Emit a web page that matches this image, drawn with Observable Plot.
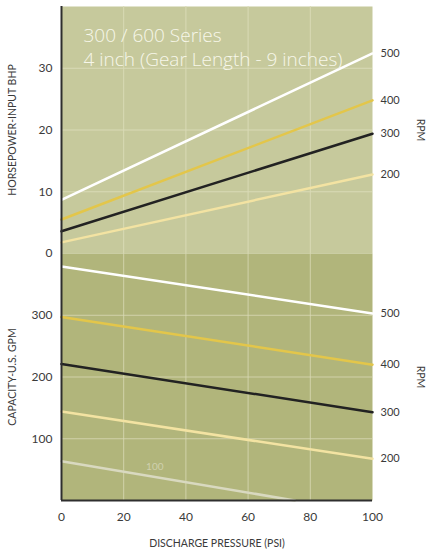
<!DOCTYPE html>
<html>
<head>
<meta charset="utf-8">
<script src="https://cdn.jsdelivr.net/npm/d3@7"></script>
<script src="https://cdn.jsdelivr.net/npm/@observablehq/plot@0.6"></script>
<style>
  html, body { margin: 0; padding: 0; background: #ffffff; }
  #chart { width: 429px; }
  #chart svg { display: block; overflow: visible; }
</style>
</head>
<body>
<div id="chart"></div>
<script>
// ---- data ----
const pressure = [0, 100];               // PSI at the ends of each curve
const rpmLabels = [500, 400, 300, 200];
const hp500 = [8.7, 32.4];
const hp400 = [5.5, 24.8];
const hp300 = [3.6, 19.4];
const hp200 = [1.8, 12.8];
const gpm500 = [379, 303];
const gpm400 = [297, 220];
const gpm300 = [221, 143];
const gpm200 = [144, 67.5];
const pressure100 = [0, 75];
const gpm100 = [63.7, 0];
const xTicks = [0, 20, 40, 60, 80, 100];
const hpTicks = [0, 10, 20, 30];
const gpmTicks = [100, 200, 300];
const titleLines = ["300 / 600 Series", "4 inch (Gear Length - 9 inches)"];
const hpLabel = "HORSEPOWER-INPUT BHP";
const gpmLabel = "CAPACITY-U.S. GPM";
const xLabel = "DISCHARGE PRESSURE (PSI)";
const rpmTitle = "RPM";

const colors = {500: "#ffffff", 400: "#e3c64a", 300: "#222222", 200: "#f3e3a2", 100: "#d9d9c0"};

const series = (vals, rpm, xs = pressure) => xs.map((p, i) => ({psi: p, v: vals[i], rpm}));
const hpData = [...series(hp500, 500), ...series(hp400, 400), ...series(hp300, 300), ...series(hp200, 200)];
const gpmData = [...series(gpm500, 500), ...series(gpm400, 400), ...series(gpm300, 300), ...series(gpm200, 200), ...series(gpm100, 100, pressure100)];
const hpEnds = rpmLabels.map(r => hpData.find(d => d.rpm === r && d.psi === 100));
const gpmEnds = rpmLabels.map(r => gpmData.find(d => d.rpm === r && d.psi === 100));

const font = "Lato, 'DejaVu Sans', sans-serif";
const textColor = "#3a3a3a";
const gridColor = "#d9dab6";

const common = {
  width: 429,
  marginLeft: 61,
  marginRight: 57,
  style: {fontFamily: font, fontSize: "12px", color: textColor, background: "transparent"}
};

const topPanel = Plot.plot({
  ...common,
  height: 253,
  marginTop: 6,
  marginBottom: 0,
  x: {domain: [0, 100], axis: null},
  y: {domain: [0, 40], axis: null},
  marks: [
    Plot.frame({fill: "#c6c99c", stroke: null}),
    Plot.gridX(xTicks.slice(1, -1), {stroke: gridColor, strokeOpacity: 1, strokeWidth: 1}),
    Plot.gridY(hpTicks.slice(1), {stroke: gridColor, strokeOpacity: 1, strokeWidth: 1}),
    Plot.axisY({ticks: hpTicks, tickSize: 0, tickPadding: 9, label: null, fontSize: 12}),
    Plot.line(hpData, {x: "psi", y: "v", z: "rpm", stroke: d => colors[d.rpm], strokeWidth: 2.5}),
    Plot.text(hpEnds, {x: "psi", y: "v", text: d => String(d.rpm), dx: 8, textAnchor: "start", fontSize: 11, fill: textColor}),
    Plot.text([rpmTitle], {frameAnchor: "right", dx: 48, rotate: 90, textAnchor: "middle", fontSize: 10.5, fill: textColor}),
    Plot.text([hpLabel], {frameAnchor: "left", dx: -49, rotate: -90, textAnchor: "middle", fontSize: 10.5, fill: textColor}),
    Plot.text([titleLines.join("\n")], {frameAnchor: "top-left", dx: 22, dy: 19, fill: "#f7f7ea", fontFamily: "'Open Sans', Lato, sans-serif", fontSize: 19, fontWeight: 300, textAnchor: "start", lineAnchor: "top", lineHeight: 1.25}),
    Plot.ruleX([0], {stroke: "#2e2e2e", strokeWidth: 2})
  ]
});

const bottomPanel = Plot.plot({
  ...common,
  height: 298,
  marginTop: 0,
  marginBottom: 51,
  x: {domain: [0, 100]},
  y: {domain: [0, 400]},
  marks: [
    Plot.frame({fill: "#b1b57b", stroke: null}),
    Plot.gridX(xTicks.slice(1, -1), {stroke: gridColor, strokeOpacity: 0.8, strokeWidth: 1}),
    Plot.gridY(gpmTicks, {stroke: gridColor, strokeOpacity: 0.8, strokeWidth: 1}),
    Plot.axisY({ticks: gpmTicks, tickSize: 0, tickPadding: 9, label: null, fontSize: 12}),
    Plot.axisX({ticks: xTicks, tickSize: 0, tickPadding: 12, label: null, fontSize: 12}),
    Plot.line(gpmData, {x: "psi", y: "v", z: "rpm", stroke: d => colors[d.rpm], strokeWidth: 2.5}),
    Plot.text(gpmEnds, {x: "psi", y: "v", text: d => String(d.rpm), dx: 8, textAnchor: "start", fontSize: 11, fill: textColor}),
    Plot.text([{psi: 30, v: 55, t: "100"}], {x: "psi", y: "v", text: "t", fontSize: 10, fill: "#cfd0ad"}),
    Plot.text([rpmTitle], {frameAnchor: "right", dx: 48, rotate: 90, textAnchor: "middle", fontSize: 10.5, fill: textColor}),
    Plot.text([gpmLabel], {frameAnchor: "left", dx: -49, rotate: -90, textAnchor: "middle", fontSize: 10.5, fill: textColor}),
    Plot.text([xLabel], {frameAnchor: "bottom", dy: 46, fontSize: 10.5, fill: textColor}),
    Plot.ruleX([0], {stroke: "#2e2e2e", strokeWidth: 2}),
    Plot.ruleY([0], {stroke: "#2e2e2e", strokeWidth: 2})
  ]
});

const chart = document.getElementById("chart");
chart.appendChild(topPanel);
chart.appendChild(bottomPanel);
</script>
</body>
</html>
